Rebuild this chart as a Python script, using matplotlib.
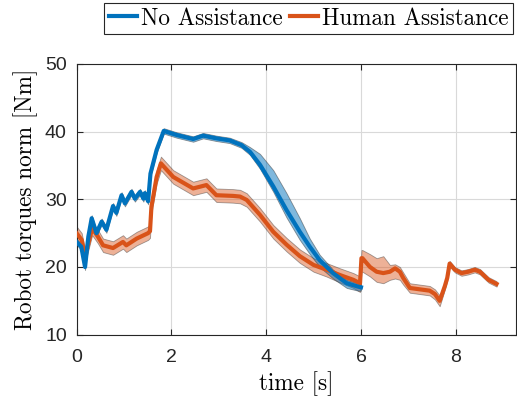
import numpy as np
import matplotlib
matplotlib.use("Agg")
import matplotlib.pyplot as plt

# No Assistance (blue)
t_na = [0, 0.1, 0.18, 0.25, 0.32, 0.42, 0.53, 0.63, 0.77, 0.84, 0.95, 1.02, 1.16, 1.23,
        1.34, 1.41, 1.44, 1.51, 1.56, 1.69, 1.84, 2.11, 2.46, 2.67, 2.95, 3.23, 3.48, 3.66,
        3.87, 4.15, 4.43, 4.71, 4.92, 5.13, 5.41, 5.70, 5.94, 6.0]
v_na = [23.7, 23.0, 20.0, 24.5, 27.2, 25.0, 26.7, 25.5, 29.0, 28.0, 30.6, 29.4, 31.1, 30.1,
        31.1, 30.1, 30.9, 29.7, 33.8, 37.3, 40.1, 39.5, 38.9, 39.4, 39.0, 38.7, 38.0, 37.0,
        35.1, 31.9, 28.4, 25.2, 23.0, 21.0, 19.1, 17.6, 17.1, 17.0]
up_na = [0.45, 0.45, 0.45, 0.45, 0.45, 0.45, 0.45, 0.45, 0.45, 0.45, 0.45, 0.45, 0.45, 0.45,
         0.45, 0.45, 0.45, 0.45, 0.45, 0.45, 0.4, 0.4, 0.4, 0.4, 0.4, 0.4, 0.45, 0.7,
         1.6, 2.4, 2.5, 2.0, 1.2, 0.8, 0.5, 0.5, 0.5, 0.5]
lo_na = [0.45, 0.45, 0.45, 0.45, 0.45, 0.45, 0.45, 0.45, 0.45, 0.45, 0.45, 0.45, 0.45, 0.45,
         0.45, 0.45, 0.45, 0.45, 0.45, 0.45, 0.4, 0.4, 0.4, 0.4, 0.4, 0.4, 0.4, 0.45,
         0.6, 0.8, 1.1, 1.2, 1.1, 1.0, 0.8, 0.7, 0.6, 0.5]

# Human Assistance (orange)
t_ha = [0, 0.11, 0.18, 0.25, 0.33, 0.45, 0.56, 0.77, 0.98, 1.05, 1.27, 1.51, 1.55, 1.58,
        1.69, 1.78, 2.04, 2.46, 2.74, 2.95, 3.3, 3.45, 3.59, 3.87, 4.15, 4.43, 4.71, 5.0,
        5.27, 5.56, 5.84, 5.98, 6.01, 6.03, 6.19, 6.33, 6.47, 6.61, 6.72, 6.82, 6.89, 7.03,
        7.24, 7.45, 7.56, 7.66, 7.77, 7.82, 7.87, 7.98, 8.12, 8.26, 8.4, 8.51, 8.69, 8.86]
v_ha = [25.0, 24.0, 21.5, 23.5, 25.7, 24.5, 23.2, 22.8, 23.7, 23.2, 24.2, 25.0, 25.3, 28.9,
        33.3, 35.3, 33.3, 31.6, 32.1, 30.6, 30.5, 30.4, 29.9, 27.7, 25.2, 23.3, 21.6, 20.3,
        19.6, 18.8, 18.1, 17.6, 21.3, 21.3, 20.0, 19.3, 19.1, 19.3, 19.8, 19.3, 18.4, 16.9,
        16.7, 16.5, 16.0, 15.0, 17.2, 18.4, 20.5, 19.6, 19.1, 19.3, 19.6, 19.3, 18.1, 17.5]
up_ha = [1.0, 1.0, 1.0, 1.0, 1.0, 1.0, 1.0, 1.0, 1.0, 1.0, 1.0, 1.0, 1.0, 1.0,
         1.0, 1.0, 1.0, 1.0, 1.0, 1.0, 1.0, 1.0, 1.0, 1.0, 1.0, 1.0, 1.0, 1.0,
         1.0, 1.0, 1.0, 1.0, 1.2, 1.2, 1.9, 2.0, 2.5, 1.0, 0.6, 0.7, 0.8, 0.7,
         0.7, 0.7, 0.7, 0.8, 0.5, 0.45, 0.4, 0.4, 0.4, 0.4, 0.4, 0.4, 0.4, 0.4]
lo_ha = [1.0, 1.0, 1.0, 1.0, 1.0, 1.0, 1.0, 1.0, 1.0, 1.0, 1.0, 1.0, 1.0, 1.0,
         1.0, 1.0, 1.0, 1.0, 1.0, 1.0, 1.0, 1.0, 1.0, 1.0, 1.0, 1.0, 1.0, 1.0,
         1.0, 1.1, 1.2, 1.3, 2.0, 2.0, 1.4, 1.5, 1.5, 1.2, 1.5, 1.2, 1.0, 0.7,
         0.7, 0.7, 0.8, 0.8, 0.5, 0.45, 0.4, 0.4, 0.4, 0.4, 0.4, 0.4, 0.4, 0.4]

blue = '#0072BD'
orange = '#D95319'
tick_font = 'Liberation Sans'
label_font = 'cmr10'

fig = plt.figure(figsize=(5.17, 4.03), dpi=100)
ax = fig.add_axes([0.148, 0.1695, 0.851, 0.672])

t_na = np.array(t_na); v_na = np.array(v_na)
t_ha = np.array(t_ha); v_ha = np.array(v_ha)

ax.fill_between(t_ha, v_ha - np.array(lo_ha), v_ha + np.array(up_ha),
                facecolor=orange, alpha=0.45, edgecolor='#333333', linewidth=0.6, zorder=2)
ax.fill_between(t_na, v_na - np.array(lo_na), v_na + np.array(up_na),
                facecolor=blue, alpha=0.5, edgecolor='#333333', linewidth=0.6, zorder=3)
ax.plot(t_ha, v_ha, color=orange, linewidth=3.0, zorder=4, label='Human Assistance')
ax.plot(t_na, v_na, color=blue, linewidth=3.0, zorder=5, label='No Assistance')

ax.set_xlim(0, 9.28)
ax.set_ylim(10, 50)
ax.set_xticks([0, 2, 4, 6, 8])
ax.set_yticks([10, 20, 30, 40, 50])
ax.grid(True, color='#d9d9d9', linewidth=0.8)
ax.set_axisbelow(True)
ax.tick_params(direction='in', top=True, right=True, length=4, labelsize=14,
               colors='#262626')
ax.tick_params(axis='x', pad=10)
ax.tick_params(axis='y', pad=7)
for lab in ax.get_xticklabels() + ax.get_yticklabels():
    lab.set_fontfamily(tick_font)
for s in ax.spines.values():
    s.set_color('#262626')
    s.set_linewidth(0.8)

ax.set_xlabel('time [s]', fontsize=16.7, fontfamily=label_font, labelpad=4)
ax.set_ylabel('Robot torques norm [Nm]', fontsize=16.7, fontfamily=label_font, labelpad=5)

handles, labels = ax.get_legend_handles_labels()
leg = fig.legend(handles[::-1], labels[::-1], loc='upper right', bbox_to_anchor=(0.993, 0.993),
                 ncol=2, handlelength=1.2, handletextpad=0.2, columnspacing=0.3,
                 borderpad=0.2, borderaxespad=0, fancybox=False, framealpha=1,
                 edgecolor='#262626', prop={'family': label_font, 'size': 16.7})
leg.get_frame().set_linewidth(0.8)

fig.savefig('out.png', dpi=100)
